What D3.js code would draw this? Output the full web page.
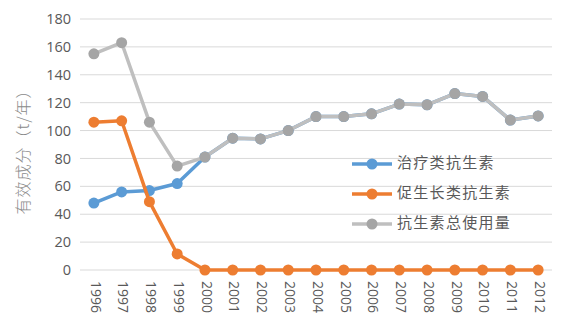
<!DOCTYPE html>
<html>
<head>
<meta charset="utf-8">
<script src="https://cdn.jsdelivr.net/npm/d3@7"></script>
<style>
  html, body { margin: 0; padding: 0; background: #fff; }
  svg { display: block; }
</style>
</head>
<body>
<svg id="chart" width="578" height="326"></svg>
<script>
// Years on the category axis
const years = ["1996","1997","1998","1999","2000","2001","2002","2003","2004","2005","2006","2007","2008","2009","2010","2011","2012"];

// Annual active-ingredient use, tonnes per year
const therapeutic = [48, 56, 57, 62, 81, 94.5, 94, 100, 110, 110, 112, 119, 118.5, 126.5, 124.5, 107.5, 110.5];
const growthPromoter = [106, 107, 49, 11.5, 0, 0, 0, 0, 0, 0, 0, 0, 0, 0, 0, 0, 0];
const totalUse = [155, 163, 106, 74.5, 81, 94.5, 94, 100, 110, 110, 112, 119, 118.5, 126.5, 124.5, 107.5, 110.5];

const seriesNames = ["治疗类抗生素", "促生长类抗生素", "抗生素总使用量"];
const yTicks = [0, 20, 40, 60, 80, 100, 120, 140, 160, 180];
const yTitle = "有效成分（t/年）";

const series = [
  { name: seriesNames[0], values: therapeutic, line: "#5b9bd5", dot: "#5b9bd5" },
  { name: seriesNames[1], values: growthPromoter, line: "#ed7d31", dot: "#ed7d31" },
  { name: seriesNames[2], values: totalUse, line: "#bfbfbf", dot: "#a5a5a5" }
];

const svg = d3.select("#chart");
const plotLeft = 80, plotRight = 552, plotTop = 19, plotBottom = 270;

const x = d3.scalePoint().domain(years).range([plotLeft, plotRight]).padding(0.5);
const y = d3.scaleLinear().domain([0, 180]).range([plotBottom, plotTop]);

const textColor = "#595959";
const font = "'Open Sans', 'Liberation Sans', sans-serif";

// Horizontal gridlines
svg.append("g")
  .selectAll("line")
  .data(yTicks)
  .join("line")
  .attr("x1", plotLeft).attr("x2", plotRight)
  .attr("y1", d => y(d)).attr("y2", d => y(d))
  .attr("stroke", "#d9d9d9").attr("stroke-width", 1);

// Y axis labels
const yAxis = svg.append("g")
  .attr("transform", `translate(${plotLeft - 9},0)`)
  .call(d3.axisLeft(y).tickValues(yTicks).tickSize(0).tickPadding(0));
yAxis.select(".domain").remove();
yAxis.selectAll("text")
  .attr("fill", textColor)
  .style("font-family", font)
  .style("font-size", "14.5px");

// X axis labels, rotated to read top to bottom
const xAxis = svg.append("g")
  .attr("transform", `translate(0,${plotBottom})`)
  .call(d3.axisBottom(x).tickSize(0).tickPadding(0));
xAxis.select(".domain").remove();
xAxis.selectAll("text")
  .attr("fill", textColor)
  .style("font-family", font)
  .style("font-size", "14px")
  .attr("text-anchor", "start")
  .attr("dominant-baseline", "middle")
  .attr("x", 0)
  .attr("y", 0)
  .attr("dy", null)
  .attr("transform", "translate(0,11) rotate(90)");

// Y axis title
svg.append("text")
  .attr("transform", "translate(25,148) rotate(-90)")
  .attr("text-anchor", "middle")
  .attr("dominant-baseline", "middle")
  .attr("fill", "#8a8a8a")
  .style("font-family", "'Noto Sans CJK SC', sans-serif")
  .style("font-weight", 300)
  .style("font-size", "16px")
  .style("letter-spacing", "1px")
  .text(yTitle);

// Series lines and markers
const line = d3.line()
  .x((d, i) => x(years[i]))
  .y(d => y(d));

series.forEach(s => {
  const g = svg.append("g");
  g.append("path")
    .datum(s.values)
    .attr("d", line)
    .attr("fill", "none")
    .attr("stroke", s.line)
    .attr("stroke-width", 3.5)
    .attr("stroke-linejoin", "round");
  g.selectAll("circle")
    .data(s.values)
    .join("circle")
    .attr("cx", (d, i) => x(years[i]))
    .attr("cy", d => y(d))
    .attr("r", 5.5)
    .attr("fill", s.dot);
});

// Legend
const legend = svg.append("g");
const legendY = [164, 194, 224];
series.forEach((s, i) => {
  const g = legend.append("g").attr("transform", `translate(352,${legendY[i]})`);
  g.append("line")
    .attr("x1", 0).attr("x2", 40)
    .attr("stroke", s.line).attr("stroke-width", 3.5);
  g.append("circle").attr("cx", 20).attr("r", 5.5).attr("fill", s.dot);
  g.append("text")
    .attr("x", 45)
    .attr("dominant-baseline", "middle")
    .attr("fill", textColor)
    .style("font-family", "'Noto Sans CJK SC', sans-serif")
    .style("font-size", "15px")
    .style("letter-spacing", "1.3px")
    .text(s.name);
});
</script>
</body>
</html>
